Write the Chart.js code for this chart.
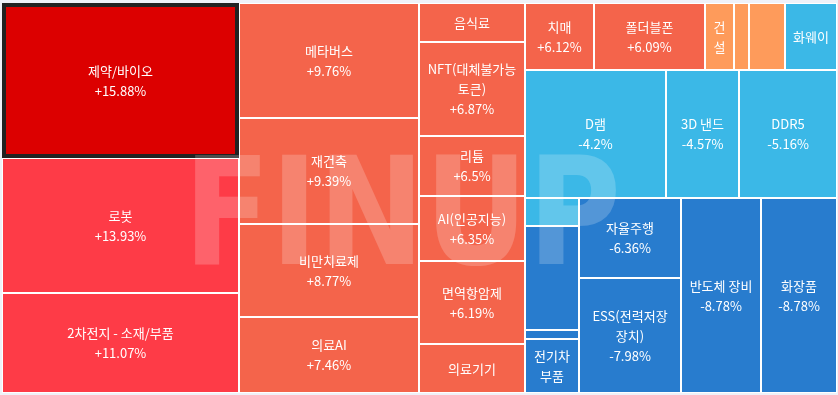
<!DOCTYPE html>
<html>
<head>
<meta charset="utf-8">
<script src="https://cdn.jsdelivr.net/npm/chart.js@4/dist/chart.umd.min.js"></script>
<style>
    html, body { margin: 0; padding: 0; background: #eff1f8; }
    #wrap { width: 838px; height: 395px; }
</style>
</head>
<body>
<div id="wrap"><canvas id="themeChart" width="838" height="395"></canvas></div>
<script>
// Sector names (empty = name not readable in the picture, cell too small for a label)
const sectors = ['제약/바이오', '로봇', '2차전지 - 소재/부품', '메타버스', '재건축', '비만치료제', '의료AI',
    '음식료', 'NFT(대체불가능토큰)', '리튬', 'AI(인공지능)', '면역항암제', '의료기기',
    '치매', '폴더블폰', '건설', '', '', '화웨이',
    'D램', '3D 낸드', 'DDR5',
    '', '', '', '전기차 부품', '자율주행', 'ESS(전력저장장치)', '반도체 장비', '화장품'];

// Daily change in %
const changes = [15.88, 13.93, 11.07, 9.76, 9.39, 8.77, 7.46,
    7.2, 6.87, 6.5, 6.35, 6.19, 6.15,
    6.12, 6.09, 4.8, 4.5, 4.2, -3.98,
    -4.2, -4.57, -5.16,
    -5.5, -6.1, -6.2, -6.3, -6.36, -7.98, -8.78, -8.78];

// Cell size weights (read from the tile areas)
const weights = [3662, 3211, 2370, 2070, 1908, 1674, 1368,
    413, 996, 636, 689, 880, 519,
    462, 744, 194, 101, 241, 348,
    1812, 938, 1259,
    149, 562, 49, 292, 811, 1173, 1556, 1478];

const highlighted = '제약/바이오';

function cellColor(v) {
    if (v >= 15) return '#dc0000';
    if (v >= 10) return '#fe3b47';
    if (v >= 5) return '#f4644b';
    if (v >= 0) return '#fe9b5b';
    if (v > -6) return '#3bb8e7';
    return '#287cce';
}

function formatChange(v) {
    return (v > 0 ? '+' : '') + v + '%';
}

// squarified treemap (same rules as d3.treemapSquarify, golden ratio)
function squarify(values, x0, y0, x1, y1) {
    const ratio = (1 + Math.sqrt(5)) / 2;
    const rects = [];
    const n = values.length;
    let total = values.reduce((a, b) => a + b, 0);
    let i0 = 0;
    while (i0 < n) {
        const dx = x1 - x0, dy = y1 - y0;
        let i1 = i0;
        let sum = values[i1++];
        let minV = sum, maxV = sum;
        const alpha = Math.max(dy / dx, dx / dy) / (total * ratio);
        let beta = sum * sum * alpha;
        let minRatio = Math.max(maxV / beta, beta / minV);
        for (; i1 < n; i1++) {
            const v = values[i1];
            const s = sum + v;
            const mn = Math.min(minV, v), mx = Math.max(maxV, v);
            beta = s * s * alpha;
            const r = Math.max(mx / beta, beta / mn);
            if (r > minRatio) break;
            sum = s; minV = mn; maxV = mx; minRatio = r;
        }
        if (dx < dy) {
            const h = dy * sum / total;
            let x = x0;
            for (let i = i0; i < i1; i++) {
                const w = dx * values[i] / sum;
                rects[i] = [x, y0, x + w, y0 + h];
                x += w;
            }
            y0 += h;
        } else {
            const w = dx * sum / total;
            let y = y0;
            for (let i = i0; i < i1; i++) {
                const h = dy * values[i] / sum;
                rects[i] = [x0, y, x0 + w, y + h];
                y += h;
            }
            x0 += w;
        }
        total -= sum;
        i0 = i1;
    }
    return rects;
}

function wrapChars(ctx, text, maxWidth) {
    const lines = [];
    let line = '';
    for (const ch of text) {
        const test = line + ch;
        if (ctx.measureText(test.trim()).width > maxWidth && line.trim() !== '') {
            lines.push(line.trim());
            line = ch;
        } else {
            line = test;
        }
    }
    if (line.trim() !== '') lines.push(line.trim());
    return lines;
}

const treemapPlugin = {
    id: 'treemapCells',
    afterDatasetsDraw(chart) {
        const { ctx, chartArea, scales } = chart;
        const W = chartArea.right - chartArea.left;
        const H = chartArea.bottom - chartArea.top;
        const rects = squarify(weights, 0, 0, W, H);

        ctx.save();
        ctx.fillStyle = '#ffffff';
        ctx.fillRect(chartArea.left, chartArea.top, W, H);

        const boxes = rects.map(r => ({
            x0: Math.round(scales.x.getPixelForValue(r[0] / W)),
            x1: Math.round(scales.x.getPixelForValue(r[2] / W)),
            y0: Math.round(scales.y.getPixelForValue(r[1] / H)),
            y1: Math.round(scales.y.getPixelForValue(r[3] / H))
        }));

        // cells
        boxes.forEach((b, i) => {
            const color = cellColor(changes[i]);
            if (sectors[i] === highlighted) {
                ctx.fillStyle = '#222222';
                ctx.fillRect(b.x0, b.y0, b.x1 - b.x0, b.y1 - b.y0);
                ctx.fillStyle = color;
                ctx.fillRect(b.x0 + 4, b.y0 + 4, b.x1 - b.x0 - 8, b.y1 - b.y0 - 8);
            } else {
                ctx.fillStyle = color;
                ctx.fillRect(b.x0 + 1, b.y0 + 1, b.x1 - b.x0 - 2, b.y1 - b.y0 - 2);
            }
        });

        // FINUP watermark
        ctx.save();
        ctx.font = 'bold 100px "DejaVu Sans"';
        const m = ctx.measureText('FINUP');
        const tw = m.actualBoundingBoxLeft + m.actualBoundingBoxRight;
        const th = m.actualBoundingBoxAscent + m.actualBoundingBoxDescent;
        ctx.translate(195, 153);
        ctx.scale(422 / tw, 112 / th);
        ctx.fillStyle = 'rgba(255, 255, 255, 0.2)';
        ctx.textBaseline = 'alphabetic';
        ctx.fillText('FINUP', m.actualBoundingBoxLeft, m.actualBoundingBoxAscent);
        ctx.restore();

        // labels
        const pad = 14, lineH = 20;
        ctx.font = '13px "Noto Sans CJK KR", "Noto Sans", sans-serif';
        ctx.fillStyle = '#ffffff';
        ctx.textAlign = 'center';
        ctx.textBaseline = 'middle';
        boxes.forEach((b, i) => {
            if (!sectors[i]) return;
            const w = b.x1 - b.x0 - 2, h = b.y1 - b.y0 - 2;
            const maxW = w - pad, maxH = h - 10;
            const lines = wrapChars(ctx, sectors[i], maxW);
            if (lines.some(l => ctx.measureText(l).width > maxW)) return;
            if (lines.length * lineH > maxH) return;
            const val = formatChange(changes[i]);
            if ((lines.length + 1) * lineH <= maxH && ctx.measureText(val).width <= maxW) lines.push(val);
            const cx = (b.x0 + b.x1) / 2;
            const cy = (b.y0 + b.y1) / 2 + 0.5;
            lines.forEach((l, k) => {
                ctx.fillText(l, cx, cy + (k - (lines.length - 1) / 2) * lineH);
            });
        });
        ctx.restore();
    }
};

new Chart(document.getElementById('themeChart'), {
    type: 'scatter',
    data: { datasets: [{ data: [], pointRadius: 0 }] },
    options: {
        responsive: false,
        animation: false,
        devicePixelRatio: 1,
        layout: { padding: { left: 2, top: 3, right: 1, bottom: 2 } },
        plugins: { legend: { display: false }, tooltip: { enabled: false } },
        scales: {
            x: { type: 'linear', min: 0, max: 1, display: false },
            y: { type: 'linear', min: 0, max: 1, reverse: true, display: false }
        }
    },
    plugins: [treemapPlugin]
});
</script>
</body>
</html>
